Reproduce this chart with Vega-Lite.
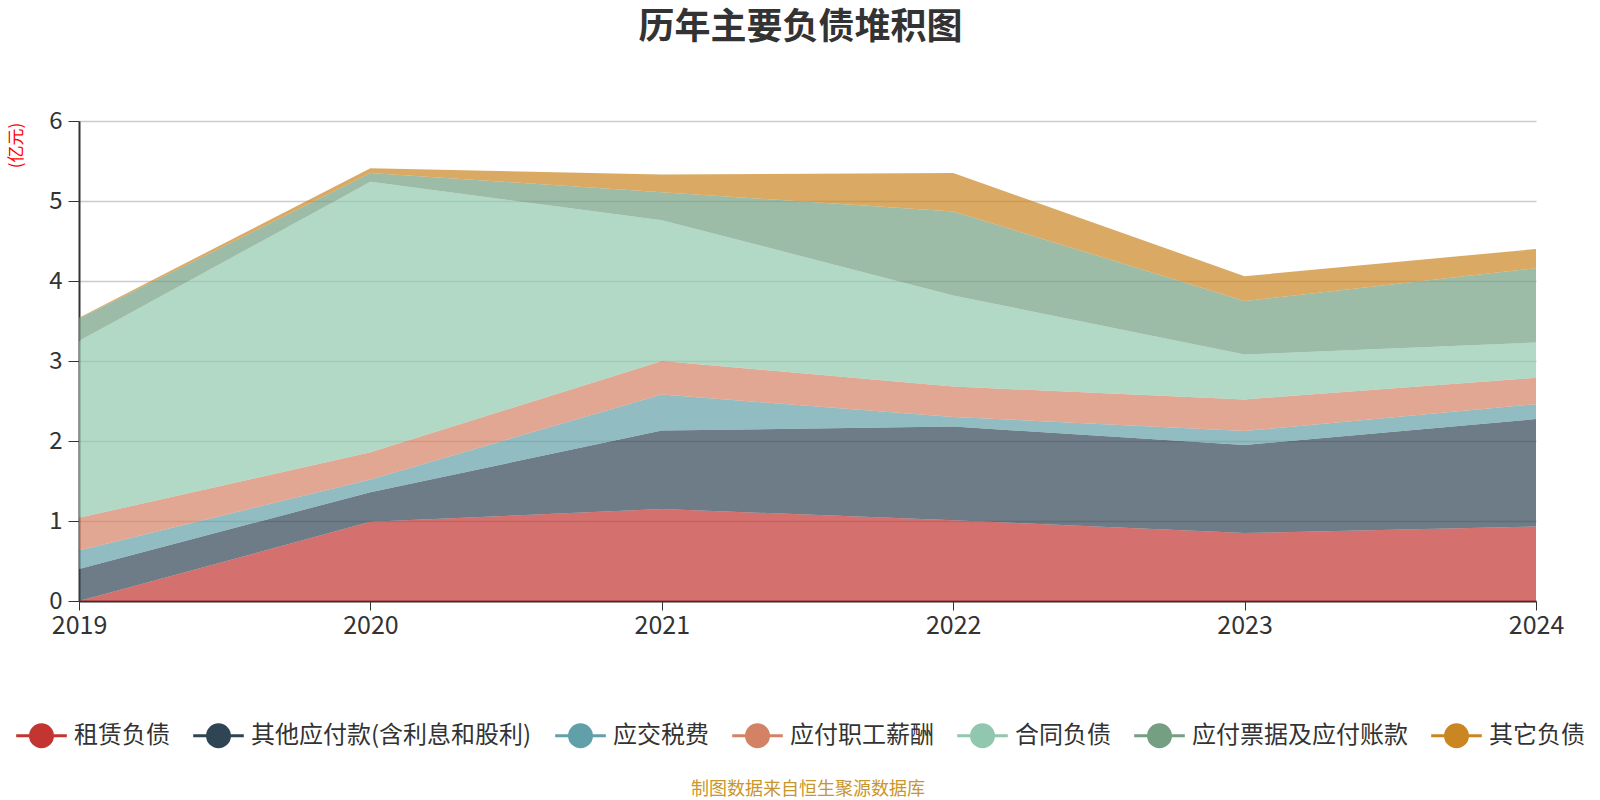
{
  "$schema": "https://vega.github.io/schema/vega-lite/v6.json",
  "width": 1457,
  "height": 480,
  "autosize": {"type": "none"},
  "padding": {"left": 79, "top": 121, "right": 64, "bottom": 199},
  "background": "white",
  "title": {
    "text": "历年主要负债堆积图",
    "font": "Noto Sans CJK SC",
    "fontSize": 36,
    "fontWeight": "bold",
    "color": "#333333",
    "anchor": "middle",
    "dx": -7,
    "offset": 62
  },
  "config": {
    "view": {"stroke": null},
    "font": "Noto Sans CJK SC"
  },
  "data": {
    "values": [
      {"year": "2019", "item": "租赁负债", "idx": 1, "v": 0.0},
      {"year": "2019", "item": "其他应付款(含利息和股利)", "idx": 2, "v": 0.40},
      {"year": "2019", "item": "应交税费", "idx": 3, "v": 0.23},
      {"year": "2019", "item": "应付职工薪酬", "idx": 4, "v": 0.41},
      {"year": "2019", "item": "合同负债", "idx": 5, "v": 2.21},
      {"year": "2019", "item": "应付票据及应付账款", "idx": 6, "v": 0.28},
      {"year": "2019", "item": "其它负债", "idx": 7, "v": 0.01},
      {"year": "2020", "item": "租赁负债", "idx": 1, "v": 0.99},
      {"year": "2020", "item": "其他应付款(含利息和股利)", "idx": 2, "v": 0.37},
      {"year": "2020", "item": "应交税费", "idx": 3, "v": 0.16},
      {"year": "2020", "item": "应付职工薪酬", "idx": 4, "v": 0.34},
      {"year": "2020", "item": "合同负债", "idx": 5, "v": 3.38},
      {"year": "2020", "item": "应付票据及应付账款", "idx": 6, "v": 0.11},
      {"year": "2020", "item": "其它负债", "idx": 7, "v": 0.06},
      {"year": "2021", "item": "租赁负债", "idx": 1, "v": 1.15},
      {"year": "2021", "item": "其他应付款(含利息和股利)", "idx": 2, "v": 0.98},
      {"year": "2021", "item": "应交税费", "idx": 3, "v": 0.45},
      {"year": "2021", "item": "应付职工薪酬", "idx": 4, "v": 0.42},
      {"year": "2021", "item": "合同负债", "idx": 5, "v": 1.76},
      {"year": "2021", "item": "应付票据及应付账款", "idx": 6, "v": 0.35},
      {"year": "2021", "item": "其它负债", "idx": 7, "v": 0.22},
      {"year": "2022", "item": "租赁负债", "idx": 1, "v": 1.01},
      {"year": "2022", "item": "其他应付款(含利息和股利)", "idx": 2, "v": 1.17},
      {"year": "2022", "item": "应交税费", "idx": 3, "v": 0.12},
      {"year": "2022", "item": "应付职工薪酬", "idx": 4, "v": 0.38},
      {"year": "2022", "item": "合同负债", "idx": 5, "v": 1.14},
      {"year": "2022", "item": "应付票据及应付账款", "idx": 6, "v": 1.05},
      {"year": "2022", "item": "其它负债", "idx": 7, "v": 0.48},
      {"year": "2023", "item": "租赁负债", "idx": 1, "v": 0.85},
      {"year": "2023", "item": "其他应付款(含利息和股利)", "idx": 2, "v": 1.10},
      {"year": "2023", "item": "应交税费", "idx": 3, "v": 0.175},
      {"year": "2023", "item": "应付职工薪酬", "idx": 4, "v": 0.395},
      {"year": "2023", "item": "合同负债", "idx": 5, "v": 0.56},
      {"year": "2023", "item": "应付票据及应付账款", "idx": 6, "v": 0.67},
      {"year": "2023", "item": "其它负债", "idx": 7, "v": 0.31},
      {"year": "2024", "item": "租赁负债", "idx": 1, "v": 0.93},
      {"year": "2024", "item": "其他应付款(含利息和股利)", "idx": 2, "v": 1.345},
      {"year": "2024", "item": "应交税费", "idx": 3, "v": 0.185},
      {"year": "2024", "item": "应付职工薪酬", "idx": 4, "v": 0.33},
      {"year": "2024", "item": "合同负债", "idx": 5, "v": 0.44},
      {"year": "2024", "item": "应付票据及应付账款", "idx": 6, "v": 0.93},
      {"year": "2024", "item": "其它负债", "idx": 7, "v": 0.24}
    ]
  },
  "mark": {"type": "area", "opacity": 0.7, "line": false, "strokeWidth": 0},
  "encoding": {
    "x": {
      "field": "year",
      "type": "ordinal",
      "scale": {"type": "point", "padding": 0},
      "axis": {
        "title": "制图数据来自恒生聚源数据库",
        "titleY": 188,
        "titleColor": "#c9952d",
        "titleFontSize": 18,
        "titleFontWeight": "normal",
        "titleBaseline": "middle",
        "labelAngle": 0,
        "labelFontSize": 25,
        "labelColor": "#333333",
        "labelPadding": 3,
        "tickSize": 9,
        "tickColor": "#333333",
        "domainColor": "#333333",
        "domainWidth": 2,
        "grid": false
      }
    },
    "y": {
      "field": "v",
      "type": "quantitative",
      "stack": "zero",
      "scale": {"domain": [0, 6], "nice": false},
      "axis": {
        "title": "(亿元)",
        "titleColor": "#ff0000",
        "titleFontSize": 17,
        "titleFontWeight": "normal",
        "titleAngle": -90,
        "titleX": -63,
        "titleY": 24,
        "titleAlign": "center",
        "titleBaseline": "middle",
        "values": [0, 1, 2, 3, 4, 5, 6],
        "labelFontSize": 24,
        "labelColor": "#333333",
        "labelPadding": 6,
        "tickSize": 11,
        "tickColor": "#333333",
        "domainColor": "#333333",
        "domainWidth": 2,
        "gridColor": "#cccccc",
        "gridWidth": 1.5
      }
    },
    "color": {
      "field": "item",
      "type": "nominal",
      "scale": {
        "domain": ["租赁负债", "其他应付款(含利息和股利)", "应交税费", "应付职工薪酬", "合同负债", "应付票据及应付账款", "其它负债"],
        "range": ["#c23531", "#2f4554", "#61a0a8", "#d48265", "#91c7ae", "#749f83", "#ca8622"]
      },
      "legend": {
        "title": null,
        "orient": "none",
        "direction": "horizontal",
        "legendX": -50,
        "legendY": 602,
        "symbolType": "M-2.3,0L2.3,0M1,0A1,1,0,1,1,-1,0A1,1,0,1,1,1,0Z",
        "symbolSize": 484,
        "symbolStrokeWidth": 3,
        "symbolOpacity": 1,
        "labelFontSize": 24,
        "labelColor": "#333333",
        "labelOffset": 20,
        "labelLimit": 400,
        "columnPadding": 17,
        "encode": {
          "symbols": {
            "update": {
              "strokeWidth": {"value": 3},
              "opacity": {"value": 1}
            }
          }
        }
      }
    },
    "stroke": {
      "field": "item",
      "type": "nominal",
      "scale": {
        "domain": ["租赁负债", "其他应付款(含利息和股利)", "应交税费", "应付职工薪酬", "合同负债", "应付票据及应付账款", "其它负债"],
        "range": ["#c23531", "#2f4554", "#61a0a8", "#d48265", "#91c7ae", "#749f83", "#ca8622"]
      }
    },
    "order": {"field": "idx", "type": "quantitative"}
  }
}
